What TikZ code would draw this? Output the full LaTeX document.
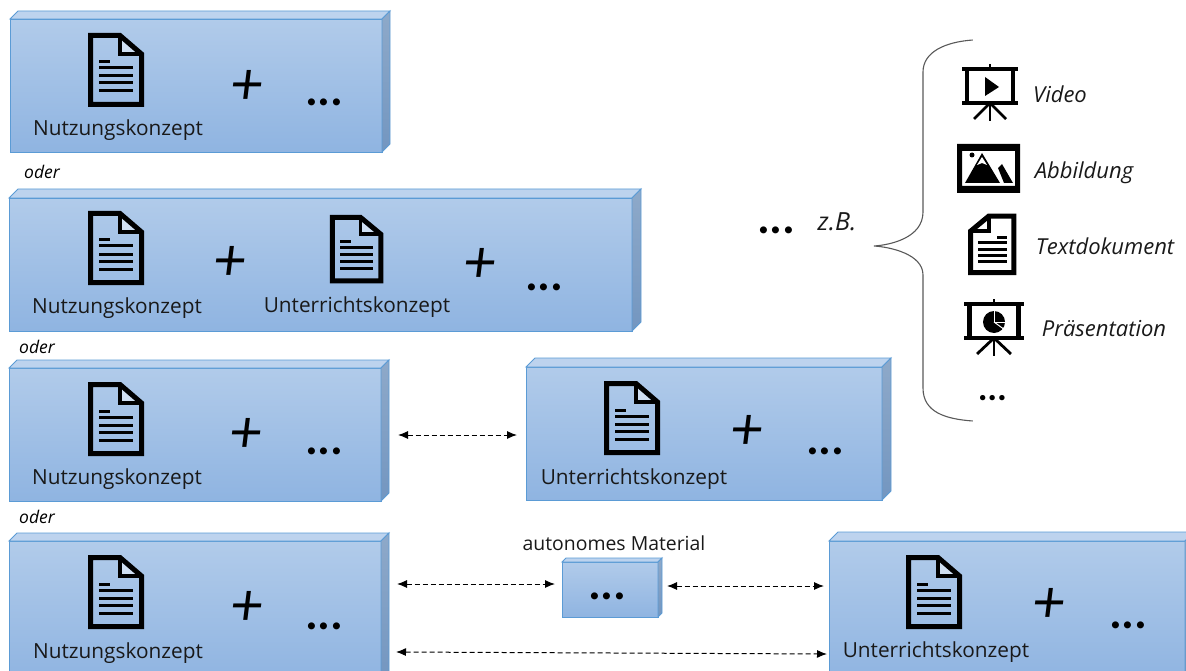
\documentclass[tikz,border=0pt]{standalone}
\usepackage{fontspec}
\setmainfont{Open Sans}
\newfontfamily\plusfont{Carlito}

\definecolor{boxedge}{HTML}{5B9BD5}
\definecolor{boxtop}{HTML}{B1CBEA}
\definecolor{boxbottom}{HTML}{8FB4E1}
\definecolor{boxlid}{HTML}{BDD3EE}
\definecolor{sidetop}{HTML}{8EA9C9}
\definecolor{sidebottom}{HTML}{7396C0}

\usetikzlibrary{arrows.meta}

\tikzset{
  bluebox/.style={draw=boxedge, top color=boxtop, bottom color=boxbottom, line width=0.9pt, inner sep=0pt, outer sep=0pt, anchor=north west},
  boxlid/.style={draw=boxedge, fill=boxlid, line width=0.9pt},
  boxside/.style={draw=boxedge, top color=sidetop, bottom color=sidebottom, line width=0.9pt},
  conceptlabel/.style={font=\fontsize{20.8}{24}\selectfont, text=black!90},
  orlabel/.style={font=\itshape\fontsize{17.5}{20}\selectfont},
  itemlabel/.style={font=\itshape\fontsize{22}{26}\selectfont, text=black!90},
  plussign/.style={font=\plusfont\itshape\fontsize{62}{62}\selectfont, inner sep=0pt},
  dotsign/.style={font=\plusfont\itshape\bfseries\fontsize{47}{47}\selectfont, inner sep=0pt},
  dashlink/.style={>={Latex[length=10pt, width=8pt]}, <->, dash pattern=on 5pt off 3pt, line width=1pt},
  docicon/.pic={
    \fill [white, opacity=.45] (32,2.5) -- (53.5,21) -- (32,21) -- cycle;
    \draw [line width=5pt, miter limit=3] (2.5,2.5) -- (32,2.5) -- (53.5,21) -- (53.5,71.5) -- (2.5,71.5) -- cycle;
    \draw [line width=3.8pt] (32,2.5) -- (32,21) -- (53.5,21);
    \draw [line width=3pt] (11,29) -- (22,29);
    \foreach \yy in {35,43,50,58} {
      \draw [line width=3pt] (11,\yy) -- (45,\yy);
    }
  },
  screenicon/.pic={
    \draw [line width=3.4pt] (-28,0) -- (28,0);
    \draw [line width=3.4pt] (-28,34) -- (28,34);
    \draw [line width=4.4pt] (-23,0) -- (-23,34);
    \draw [line width=4.4pt] (23,0) -- (23,34);
    \draw [line width=2pt] (0,-5) -- (0,0);
    \draw [line width=2.8pt] (0,34) -- (0,52);
    \draw [line width=2.8pt] (0,34) -- (-16,50);
    \draw [line width=2.8pt] (0,34) -- (16,50);
  }
}

\newcommand{\blueblock}[6]{
  \node [bluebox, minimum width=#4pt, minimum height=#5pt] (#1) at (#2,#3) {};
  \draw [boxlid] (#1.north west) -- ++(#6,-#6) -- ++(#4,0) -- (#1.north east) -- cycle;
  \draw [boxside] (#1.north east) -- ++(#6,-#6) -- ++(0,#5) -- (#1.south east) -- cycle;
}

\begin{document}
\begin{tikzpicture}[x=1pt, y=-1pt]

\useasboundingbox (0,0) rectangle (1186,671);
\clip (0,0) rectangle (1186,671);

\blueblock{blockA}{10}{19}{372}{133}{8}
\blueblock{blockB}{9}{198}{623}{133}{9}
\blueblock{blockC}{9}{368}{372}{133}{8}
\blueblock{blockD}{526}{367}{356}{133}{9}
\blueblock{blockE}{9}{541}{372}{140}{8}
\blueblock{blockF}{829}{541}{356}{140}{9}
\blueblock{blockM}{562}{562}{96}{55}{4}

\pic at (88,33) {docicon};
\node [conceptlabel] (nutzA) at (118,130) {Nutzungskonzept};
\node [plussign] (plusA) at (247,87) {+};
\node [dotsign] (dotsA) at (325,102) {...};

\node [orlabel] (oderA) at (42,172) {oder};

\pic at (88,211) {docicon};
\node [conceptlabel] (nutzB) at (117,308) {Nutzungskonzept};
\node [plussign] (plusB) at (230,263) {+};
\pic [xscale=.95, yscale=.92] at (330,215) {docicon};
\node [conceptlabel] (unterB) at (357,307) {Unterrichtskonzept};
\node [plussign] (plusBB) at (480,265) {+};
\node [dotsign] (dotsB) at (545,287) {...};

\node [orlabel] (oderB) at (37,347) {oder};

\pic at (88,382) {docicon};
\node [conceptlabel] (nutzC) at (117,479) {Nutzungskonzept};
\node [plussign] (plusC) at (246,435) {+};
\node [dotsign] (dotsC) at (325,451) {...};

\pic at (604,381) {docicon};
\node [conceptlabel] (unterD) at (634,479) {Unterrichtskonzept};
\node [plussign] (plusD) at (747,432) {+};
\node [dotsign] (dotsD) at (826,451) {...};

\node [orlabel] (oderC) at (37,517) {oder};

\pic at (88,555) {docicon};
\node [conceptlabel] (nutzE) at (118,653) {Nutzungskonzept};
\node [plussign] (plusE) at (247,608) {+};
\node [dotsign] (dotsE) at (325,626) {...};

\pic at (906,555) {docicon};
\node [conceptlabel] (unterF) at (936,652) {Unterrichtskonzept};
\node [plussign] (plusF) at (1049,605) {+};
\node [dotsign] (dotsF) at (1129,625) {...};

\node [conceptlabel, font=\fontsize{19.4}{22}\selectfont] (autonom) at (614,543) {autonomes Material};
\node [dotsign] (dotsM) at (608,596) {...};

% verbindungen
\coordinate (linkCD1) at (398,435);
\coordinate (linkCD2) at (517,435);
\coordinate (linkEM1) at (397,584);
\coordinate (linkEM2) at (555,584);
\coordinate (linkMF1) at (667,586);
\coordinate (linkMF2) at (824,586);
\coordinate (linkEF1) at (396,652);
\coordinate (linkEF2) at (827,654);

\draw [dashlink] (linkCD1) -- (linkCD2);
\draw [dashlink] (linkEM1) -- (linkEM2);
\draw [dashlink] (linkMF1) -- (linkMF2);
\draw [dashlink] (linkEF1) -- (linkEF2);

\node [dotsign] (dotsZ) at (777,230) {...};
\node [itemlabel, font=\itshape\fontsize{25}{30}\selectfont] (zb) at (837,222) {z.B.};

% klammer
\draw [black!65, line width=1.1pt] (972.7,40) .. controls (945,42) and (923,52) .. (923,72) -- (923,212)
  .. controls (923,238) and (890,245) .. (874,246) .. controls (890,247) and (923,254) .. (923,275)
  -- (923,388) .. controls (923,412) and (945,419) .. (972.7,421);

\pic at (990,69) {screenicon};
\fill (985,77) -- (999,87) -- (985,96) -- cycle;
\node [itemlabel] (video) at (1060,94) {Video};

\fill [even odd rule] (957,144) rectangle (1020,193) (962,151) rectangle (1015,186);
\fill (965,183) -- (982,153) -- (1000,183) -- cycle;
\fill [white] (982,157) -- (977,165) -- (982,163) -- (987,165) -- cycle;
\fill (998,168) -- (1002,164) -- (1013,183) -- (1004,183) -- cycle;
\fill (972,155) circle (2.5);
\node [itemlabel] (abbildung) at (1084,173) {Abbildung};

\pic [xscale=-.85, yscale=.82] at (1016,214) {docicon};
\node [itemlabel] (textdok) at (1105,246) {Textdokument};

\pic [xscale=1.06] at (994,304) {screenicon};
\fill (994,322) circle (11);
\draw [white, line width=1pt] (994,322) -- (994,309);
\draw [white, line width=1pt] (994,322) -- (1006,322);
\draw [white, line width=1pt] (994,322) -- (1005,330);
\node [itemlabel] (praes) at (1104,329) {Präsentation};

\node [dotsign, font=\plusfont\itshape\bfseries\fontsize{36}{36}\selectfont] (dotsItems) at (993,398) {...};

\end{tikzpicture}
\end{document}
